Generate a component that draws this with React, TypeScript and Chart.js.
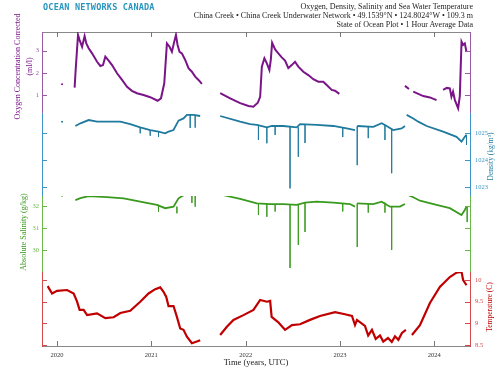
import React, { useEffect, useRef } from 'react';
import { Chart, registerables } from 'chart.js';
Chart.register(...registerables);

const yearTicks = [2020, 2021, 2022, 2023, 2024];
const oxyTicks = [1, 2, 3];
const denTicks = [1023, 1024, 1025];
const salTicks = [30, 31, 32];
const tmpTicks = [8.5, 9, 9.5, 10];

// [time (decimal year), value]; null value = gap
const oxygenSeries: [number, number | null][] = [
  [2020.186, 1.33], [2020.197, 2.13], [2020.222, 3.71], [2020.239, 3.48], [2020.265, 3.18], [2020.292, 3.66],
  [2020.31, 3.33], [2020.335, 3.11], [2020.371, 2.88], [2020.424, 2.5], [2020.459, 2.31], [2020.487, 2.35],
  [2020.512, 2.73], [2020.547, 2.55], [2020.583, 2.35], [2020.636, 1.98], [2020.689, 1.68], [2020.742, 1.37],
  [2020.794, 1.19], [2020.847, 1.08], [2020.917, 1.0], [2020.988, 0.9], [2021.066, 0.74], [2021.102, 0.85],
  [2021.137, 1.53], [2021.165, 3.33], [2021.193, 3.18], [2021.218, 2.95], [2021.243, 3.41], [2021.261, 3.71],
  [2021.278, 3.26], [2021.299, 2.95], [2021.324, 2.88], [2021.359, 2.58], [2021.394, 2.21], [2021.43, 2.05],
  [2021.465, 1.83], [2021.5, 1.68], [2021.536, 1.5],
  [2021.63, null],
  [2021.73, 1.08], [2021.836, 0.85], [2021.942, 0.63], [2022.03, 0.5], [2022.083, 0.47], [2022.129, 0.65],
  [2022.154, 0.92], [2022.172, 2.28], [2022.199, 2.66], [2022.225, 2.43], [2022.252, 2.13], [2022.267, 2.58],
  [2022.281, 3.36], [2022.313, 3.06], [2022.347, 2.88], [2022.383, 2.7], [2022.418, 2.55], [2022.453, 2.21],
  [2022.489, 2.35], [2022.524, 2.5], [2022.559, 2.28], [2022.612, 2.05], [2022.665, 1.9], [2022.718, 1.71],
  [2022.771, 1.6], [2022.824, 1.6], [2022.86, 1.45], [2022.913, 1.23], [2022.948, 1.19], [2022.994, 1.05],
  [2023.3, null],
  [2023.69, 1.41], [2023.733, 1.27], [2023.755, null], [2023.778, 1.15], [2023.884, 0.95], [2023.955, 0.89], [2024.025, 0.77],
  [2024.06, null],
  [2024.095, 1.23], [2024.134, 1.32], [2024.166, 1.3], [2024.183, 0.92], [2024.2, 1.15], [2024.22, 0.77],
  [2024.254, 0.4], [2024.272, 0.95], [2024.29, 3.41], [2024.307, 3.26], [2024.325, 3.33], [2024.343, 2.94],
];

const densitySeries: [number, number | null][] = [
  [2020.194, 1025.26], [2020.247, 1025.36], [2020.335, 1025.48], [2020.424, 1025.42], [2020.53, 1025.42],
  [2020.671, 1025.42], [2020.776, 1025.33], [2020.882, 1025.21], [2020.988, 1025.11], [2021.076, 1025.05],
  [2021.147, 1024.99], [2021.182, 1025.05], [2021.235, 1025.11], [2021.288, 1025.46], [2021.341, 1025.54],
  [2021.377, 1025.67], [2021.447, 1025.67], [2021.518, 1025.63],
  [2021.63, null],
  [2021.73, 1025.63], [2021.942, 1025.42], [2022.048, 1025.33], [2022.119, 1025.3], [2022.225, 1025.21],
  [2022.278, 1025.26], [2022.4, 1025.26], [2022.542, 1025.21], [2022.577, 1025.33], [2022.754, 1025.3],
  [2022.93, 1025.26], [2023.072, 1025.17], [2023.16, 1025.11],
  [2023.172, null],
  [2023.184, 1025.26], [2023.354, 1025.23], [2023.443, 1025.36], [2023.496, 1025.26], [2023.566, 1025.11],
  [2023.655, 1025.17], [2023.69, 1025.26],
  [2023.7, null],
  [2023.708, 1025.67], [2023.778, 1025.54], [2023.831, 1025.42], [2023.92, 1025.26], [2024.095, 1025.05],
  [2024.237, 1024.86], [2024.29, 1024.68], [2024.325, 1024.86], [2024.343, 1024.93],
];

const salinitySeries: [number, number | null][] = [
  [2020.194, 32.27], [2020.247, 32.36], [2020.335, 32.45], [2020.53, 32.4], [2020.706, 32.35], [2020.882, 32.2],
  [2021.059, 32.05], [2021.147, 31.9], [2021.235, 31.97], [2021.288, 32.35], [2021.377, 32.58], [2021.518, 32.5],
  [2021.63, null],
  [2021.73, 32.53], [2021.942, 32.32], [2022.119, 32.12], [2022.26, 32.09], [2022.4, 32.09], [2022.542, 32.05],
  [2022.63, 32.15], [2022.754, 32.2], [2022.93, 32.15], [2023.107, 32.09], [2023.16, 31.97],
  [2023.172, null],
  [2023.184, 32.12], [2023.354, 32.09], [2023.443, 32.2], [2023.531, 31.97], [2023.637, 31.97], [2023.69, 32.09],
  [2023.7, null],
  [2023.708, 32.53], [2023.778, 32.4], [2023.849, 32.24], [2024.025, 32.05], [2024.166, 31.9], [2024.29, 31.59],
  [2024.325, 31.82], [2024.343, 31.97],
];

const temperatureSeries: [number, number | null][] = [
  [2019.9, 9.86], [2019.947, 9.69], [2020.0, 9.75], [2020.106, 9.77], [2020.176, 9.69], [2020.212, 9.5],
  [2020.239, 9.31], [2020.282, 9.31], [2020.318, 9.19], [2020.424, 9.23], [2020.512, 9.12], [2020.6, 9.14],
  [2020.671, 9.24], [2020.776, 9.29], [2020.882, 9.5], [2020.97, 9.69], [2021.041, 9.79], [2021.094, 9.83],
  [2021.129, 9.73], [2021.158, 9.61], [2021.182, 9.4], [2021.235, 9.4], [2021.271, 9.15], [2021.306, 8.88],
  [2021.341, 8.85], [2021.377, 8.69], [2021.43, 8.54], [2021.483, 8.58], [2021.518, 8.61],
  [2021.63, null],
  [2021.73, 8.73], [2021.801, 8.92], [2021.871, 9.08], [2021.977, 9.19], [2022.083, 9.31], [2022.154, 9.54],
  [2022.225, 9.5], [2022.26, 9.52], [2022.276, 9.15], [2022.344, 9.03], [2022.418, 8.85], [2022.492, 8.96],
  [2022.577, 8.98], [2022.683, 9.08], [2022.789, 9.17], [2022.948, 9.26], [2023.054, 9.21], [2023.128, 9.17],
  [2023.16, 8.96], [2023.181, 9.08], [2023.266, 8.94], [2023.3, 8.72], [2023.34, 8.85], [2023.38, 8.64],
  [2023.425, 8.72], [2023.46, 8.58], [2023.51, 8.66], [2023.55, 8.57], [2023.584, 8.7], [2023.62, 8.62],
  [2023.658, 8.78], [2023.7, 8.85],
  [2023.73, null],
  [2023.764, 8.73], [2023.849, 8.96], [2023.955, 9.47], [2024.06, 9.84], [2024.166, 10.07], [2024.237, 10.17],
  [2024.29, 10.19], [2024.307, 10.0], [2024.343, 9.88],
];

// [time, level before drop, level at bottom of drop]
const densitySpikes: [number, number, number][] = [
  [2020.882, 1025.21, 1024.99], [2020.988, 1025.11, 1024.9], [2021.076, 1025.05, 1024.85],
  [2021.412, 1025.67, 1025.19], [2021.465, 1025.67, 1025.2], [2022.136, 1025.3, 1024.74],
  [2022.225, 1025.21, 1024.62], [2022.313, 1025.26, 1024.93], [2022.471, 1025.26, 1022.95],
  [2022.559, 1025.21, 1024.12], [2022.63, 1025.3, 1024.63], [2023.03, 1025.2, 1024.85],
  [2023.184, 1025.26, 1023.81], [2023.301, 1025.25, 1024.81], [2023.478, 1025.3, 1024.74],
  [2023.549, 1025.15, 1023.51], [2024.343, 1024.93, 1024.56],
];
const salinitySpikes: [number, number, number][] = [
  [2021.076, 32.05, 31.74], [2021.271, 31.97, 31.67], [2021.43, 32.5, 32.14], [2021.465, 32.55, 31.97],
  [2022.136, 32.12, 31.59], [2022.225, 32.09, 31.51], [2022.313, 32.09, 31.75], [2022.471, 32.09, 29.18],
  [2022.559, 32.05, 30.23], [2022.63, 32.15, 30.82], [2023.03, 32.12, 31.75], [2023.184, 32.12, 30.14],
  [2023.301, 32.09, 31.7], [2023.478, 32.15, 31.7], [2023.549, 31.97, 30.0], [2024.35, 31.97, 31.27],
];
const oxygenDots: [number, number][] = [[2020.053, 1.48]];
const densityDots: [number, number][] = [[2020.053, 1025.42]];
const salinityDots: [number, number][] = [[2020.053, 32.47]];

const C = {
  oxy: '#7a1488', oxyAx: '#9b5aa6',
  den: '#1f7a9e', denAx: '#3f95c8',
  sal: '#3a9a1e', salAx: '#6ab84a',
  tmp: '#c00000', tmpAx: '#d24a4a',
};
const SERIF = "'Liberation Serif', 'DejaVu Serif', serif";

const toXY = (s: [number, number | null][]) => s.map(([x, y]) => ({ x, y }));
const spikesXY = (s: [number, number, number][]) =>
  s.flatMap(([x, a, b]) => [{ x, y: a }, { x, y: b }, { x, y: null as number | null }]);

function yScale(pos: 'left' | 'right', stack: string, stackWeight: number, weight: number,
  min: number, max: number, ticks: number[], color: string, show: boolean) {
  return {
    type: 'linear', position: pos, stack, stackWeight, weight, min, max,
    grid: { display: false, drawTicks: false, tickLength: 0 },
    border: { display: true, color, width: 1 },
    ticks: {
      display: show, color, padding: pos === 'left' ? 3 : 5,
      font: { family: SERIF, size: 6.5 }, autoSkip: false,
      callback: (v: number) => String(v),
    },
    afterBuildTicks: (s: any) => { s.ticks = ticks.map((v) => ({ value: v })); },
    afterFit: (s: any) => { s.width = pos === 'left' ? 42 : 28; },
  };
}

const tickMap: Record<string, number[]> = {
  yO: oxyTicks, yD: denTicks, yS: salTicks, yT: tmpTicks,
  yO2: oxyTicks, yD2: denTicks, yS2: salTicks, yT2: tmpTicks,
};
const axColor: Record<string, string> = {
  yO: C.oxyAx, yD: C.denAx, yS: C.salAx, yT: C.tmpAx,
  yO2: C.oxyAx, yD2: C.denAx, yS2: C.salAx, yT2: C.tmpAx,
};

const decor = {
  id: 'decor',
  afterDraw(chart: any) {
    const ctx = chart.ctx as CanvasRenderingContext2D;
    const a = chart.chartArea;
    ctx.save();
    ctx.lineWidth = 1;
    for (const id of Object.keys(tickMap)) {
      const s = chart.scales[id];
      if (!s) continue;
      ctx.strokeStyle = axColor[id];
      const left = s.position === 'left';
      for (const v of tickMap[id]) {
        const y = Math.round(s.getPixelForValue(v)) + 0.5;
        ctx.beginPath();
        if (left) { ctx.moveTo(a.left, y); ctx.lineTo(a.left + 5, y); }
        else { ctx.moveTo(a.right - 5, y); ctx.lineTo(a.right, y); }
        ctx.stroke();
      }
    }
    const xs = chart.scales.x;
    ctx.strokeStyle = '#777';
    for (const v of yearTicks) {
      const x = Math.round(xs.getPixelForValue(v)) + 0.5;
      ctx.beginPath();
      ctx.moveTo(x, a.bottom); ctx.lineTo(x, a.bottom - 5);
      ctx.moveTo(x, a.top); ctx.lineTo(x, a.top + 5);
      ctx.stroke();
    }
    const title = (text: string, x: number, y: number, color: string, size: number) => {
      ctx.save();
      ctx.translate(x, y);
      ctx.rotate(-Math.PI / 2);
      ctx.fillStyle = color;
      ctx.font = `${size}px ${SERIF}`;
      ctx.textAlign = 'center';
      ctx.textBaseline = 'middle';
      ctx.fillText(text, 0, 0);
      ctx.restore();
    };
    const sO = chart.scales.yO, sD = chart.scales.yD2, sS = chart.scales.yS, sT = chart.scales.yT2;
    const cy = (s: any) => (s.top + s.bottom) / 2;
    title('Oxygen Concentration Corrected', 18, cy(sO) - 6, C.oxy, 8);
    title('(ml/l)', 30, cy(sO) - 6, C.oxy, 8);
    title('Density (kg/m³)', 491, cy(sD) + 2, C.den, 7.5);
    title('Absolute Salinity (g/kg)', 24, cy(sS) - 2, C.sal, 8);
    title('Temperature (C)', 490, cy(sT) - 2, C.tmp, 7.5);
    ctx.restore();
  },
};

export default function App() {
  const ref = useRef<HTMLCanvasElement | null>(null);
  useEffect(() => {
    if (!ref.current) return;
    const line = (data: any[], yAxisID: string, color: string, width: number) => ({
      data, yAxisID, borderColor: color, backgroundColor: color, borderWidth: width,
      pointRadius: 0, tension: 0, spanGaps: false, fill: false,
    });
    const dots = (data: [number, number][], yAxisID: string, color: string) => ({
      data: data.map(([x, y]) => ({ x, y })), yAxisID, borderColor: color, backgroundColor: color,
      showLine: false, pointRadius: 1, pointBorderWidth: 0,
    });
    const chart = new Chart(ref.current, {
      type: 'line',
      data: {
        datasets: [
          line(spikesXY(densitySpikes), 'yD2', C.den, 0.8),
          line(spikesXY(salinitySpikes), 'yS', C.sal, 0.8),
          line(toXY(oxygenSeries), 'yO', C.oxy, 2),
          line(toXY(densitySeries), 'yD2', C.den, 1.8),
          line(toXY(salinitySeries), 'yS', C.sal, 1.8),
          line(toXY(temperatureSeries), 'yT2', C.tmp, 2.2),
          dots(oxygenDots, 'yO', C.oxy),
          dots(densityDots, 'yD2', C.den),
          dots(salinityDots, 'yS', C.sal),
        ] as any,
      },
      options: {
        animation: false,
        responsive: true,
        maintainAspectRatio: false,
        layout: { padding: 0 },
        plugins: { legend: { display: false }, tooltip: { enabled: false }, title: { display: false } },
        scales: {
          x: {
            type: 'linear', position: 'bottom', min: 2019.84, max: 2024.38,
            grid: { display: false, drawTicks: false, tickLength: 0 },
            border: { display: true, color: '#888' },
            ticks: { color: '#333', padding: 5, font: { family: SERIF, size: 6.5 }, callback: (v: any) => String(v) },
            afterBuildTicks: (s: any) => { s.ticks = yearTicks.map((v) => ({ value: v })); },
            afterFit: (s: any) => { s.height = 25; },
            title: { display: true, text: 'Time (years, UTC)', color: '#222', font: { family: SERIF, size: 8.5 }, padding: { top: 0, bottom: 3 } },
          },
          x2: {
            type: 'linear', axis: 'x', position: 'top', min: 2019.84, max: 2024.38,
            grid: { display: false, drawTicks: false, tickLength: 0 },
            border: { display: true, color: '#888' },
            ticks: { display: false },
            afterFit: (s: any) => { s.height = 32; },
          },
          yO: yScale('left', 'L', 81, 4, 0.187, 3.844, oxyTicks, C.oxyAx, true),
          yD: yScale('left', 'L', 83, 3, 1022.667, 1025.741, denTicks, C.denAx, false),
          yS: yScale('left', 'L', 76, 2, 29.0, 32.455, salTicks, C.salAx, true),
          yT: yScale('left', 'L', 74, 1, 8.477, 10.186, tmpTicks, C.tmpAx, false),
          yO2: yScale('right', 'R', 81, 1, 0.187, 3.844, oxyTicks, C.oxyAx, false),
          yD2: yScale('right', 'R', 83, 2, 1022.667, 1025.741, denTicks, C.denAx, true),
          yS2: yScale('right', 'R', 76, 3, 29.0, 32.455, salTicks, C.salAx, false),
          yT2: yScale('right', 'R', 74, 4, 8.477, 10.186, tmpTicks, C.tmpAx, true),
        } as any,
      },
      plugins: [decor],
    });
    return () => chart.destroy();
  }, []);

  return (
    <div style={{ position: 'fixed', left: 0, top: 0, width: 498, height: 371, background: '#fff' }}>
      <canvas ref={ref} />
      <div style={{
        position: 'absolute', left: 43, top: 2, fontFamily: "'DejaVu Sans Mono', monospace", fontWeight: 'bold',
        fontSize: 8.5, color: '#2896be', letterSpacing: 0.2, whiteSpace: 'nowrap',
      }}>OCEAN NETWORKS CANADA</div>
      <div style={{
        position: 'absolute', right: 25, top: 2, textAlign: 'right', fontFamily: SERIF, fontSize: 8,
        lineHeight: '9px', color: '#222', whiteSpace: 'nowrap',
      }}>
        <div>Oxygen, Density, Salinity and Sea Water Temperature</div>
        <div>China Creek • China Creek Underwater Network • 49.1539°N • 124.8024°W • 109.3 m</div>
        <div>State of Ocean Plot • 1 Hour Average Data</div>
      </div>
    </div>
  );
}
